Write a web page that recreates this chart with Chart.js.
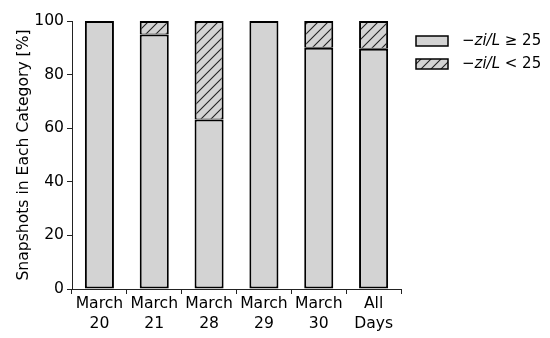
<!DOCTYPE html>
<html>
<head>
<meta charset="utf-8">
<script src="https://cdn.jsdelivr.net/npm/chart.js@4"></script>
<style>
  body { margin: 0; background: #fff; }
</style>
</head>
<body>
<canvas id="myChart" width="550" height="338"></canvas>
<script>
var categories = [["March", "20"], ["March", "21"], ["March", "28"], ["March", "29"], ["March", "30"], ["All", "Days"]];
var highShare = [100, 95, 63.2, 100, 90, 89.6];
var lowShare = [0, 5, 36.8, 0, 10, 10.4];
var yTicks = [0, 20, 40, 60, 80, 100];

var FONT = '"DejaVu Sans", sans-serif';
var FS = 15.6;
var GRAY = '#d3d3d3';

var ctx = document.getElementById('myChart').getContext('2d');

// diagonal "/" hatch on gray
function makeHatch() {
  var c = document.createElement('canvas');
  c.width = 10; c.height = 10;
  var g = c.getContext('2d');
  g.fillStyle = GRAY;
  g.fillRect(0, 0, 10, 10);
  g.strokeStyle = '#222';
  g.lineWidth = 1.1;
  g.beginPath();
  g.moveTo(0, 10); g.lineTo(10, 0);
  g.moveTo(-5, 5); g.lineTo(5, -5);
  g.moveTo(5, 15); g.lineTo(15, 5);
  g.stroke();
  return ctx.createPattern(c, 'repeat');
}
var hatch = makeHatch();

// legend with italic math parts, drawn by hand
var mathLegend = {
  id: 'mathLegend',
  afterDraw: function(chart) {
    var c = chart.ctx;
    var fs = 15;
    var rows = [
      { y: 41, fill: GRAY, op: ' \u2265 25' },
      { y: 64, fill: hatch, op: ' < 25' }
    ];
    c.save();
    rows.forEach(function(r) {
      c.fillStyle = r.fill;
      c.fillRect(416, r.y - 5, 32, 10);
      c.strokeStyle = '#000';
      c.lineWidth = 1.5;
      c.strokeRect(416, r.y - 5, 32, 10);
      c.fillStyle = '#000';
      c.textBaseline = 'middle';
      var x = 462;
      c.font = fs + 'px ' + FONT;
      c.fillText('\u2212', x, r.y);
      x += c.measureText('\u2212').width;
      c.font = 'italic ' + fs + 'px ' + FONT;
      c.fillText('zi/L', x, r.y);
      x += c.measureText('zi/L').width;
      c.font = fs + 'px ' + FONT;
      c.fillText(r.op, x, r.y);
    });
    c.restore();
  }
};

var myChart = new Chart(ctx, {
  type: 'bar',
  data: {
    labels: categories,
    datasets: [{
      label: '-zi/L >= 25',
      data: highShare,
      backgroundColor: GRAY,
      borderColor: '#000',
      borderWidth: 2,
      borderSkipped: false,
      barPercentage: 0.53,
      categoryPercentage: 1
    }, {
      label: '-zi/L < 25',
      data: lowShare,
      backgroundColor: hatch,
      borderColor: '#000',
      borderWidth: function(c) {
        if (!lowShare[c.dataIndex]) return 0;
        return { left: 2, right: 2, top: 2, bottom: 1 };
      },
      borderSkipped: false,
      barPercentage: 0.53,
      categoryPercentage: 1
    }]
  },
  options: {
    responsive: false,
    devicePixelRatio: 1,
    animation: false,
    layout: { padding: { top: 21, right: 149, left: 0, bottom: 0 } },
    plugins: {
      legend: { display: false },
      tooltip: { enabled: false }
    },
    scales: {
      x: {
        stacked: true,
        grid: { display: true, drawOnChartArea: false, tickLength: 5, color: '#222' },
        border: { display: true, color: '#222', width: 1 },
        ticks: { color: '#000', font: { family: FONT, size: FS, lineHeight: 1.3 }, padding: 0, maxRotation: 0 },
        afterFit: function(axis) { axis.height = 49; }
      },
      y: {
        stacked: true,
        min: 0,
        max: 100,
        afterBuildTicks: function(axis) { axis.ticks = yTicks.map(function(v) { return { value: v }; }); },
        grid: { display: true, drawOnChartArea: false, tickLength: 5, color: '#222' },
        border: { display: true, color: '#222', width: 1 },
        ticks: { color: '#000', font: { family: FONT, size: FS }, padding: 3 },
        title: {
          display: true,
          text: 'Snapshots in Each Category [%]',
          color: '#000',
          font: { family: FONT, size: FS },
          padding: { top: 15, bottom: 0 }
        },
        afterFit: function(axis) { axis.width = 72; }
      }
    }
  },
  plugins: [mathLegend]
});
</script>
</body>
</html>
